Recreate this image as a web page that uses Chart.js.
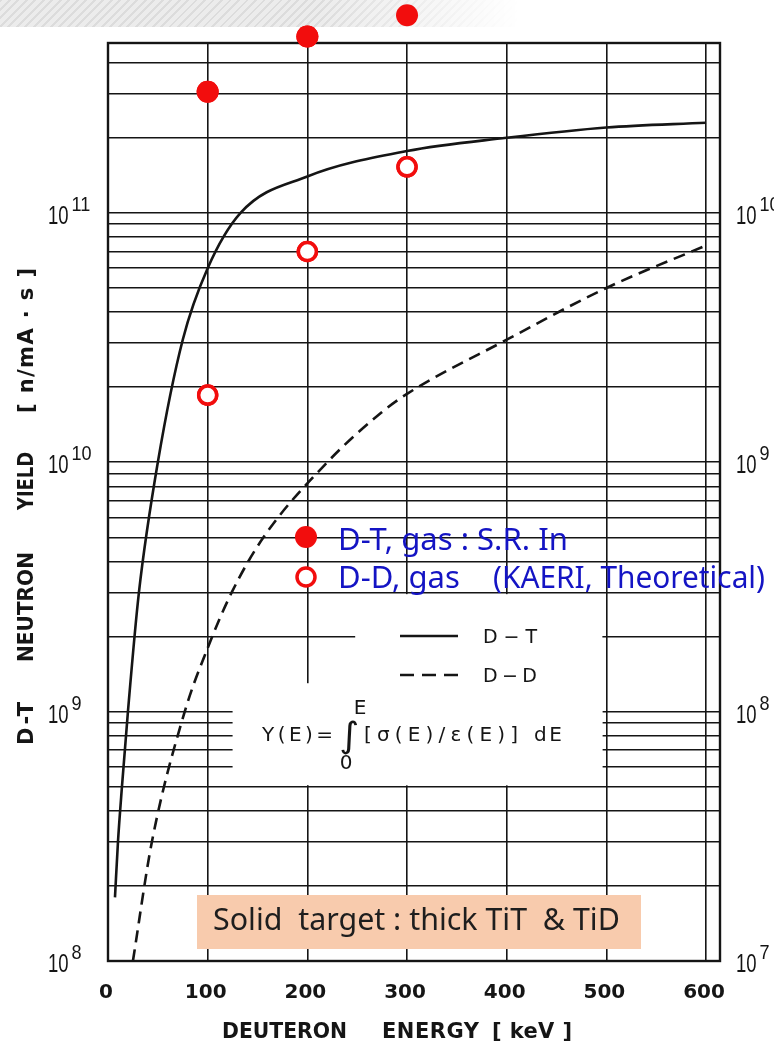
<!DOCTYPE html>
<html>
<head>
<meta charset="utf-8">
<script src="https://cdn.jsdelivr.net/npm/chart.js@4.4.1/dist/chart.umd.min.js"></script>
<style>
html, body { margin: 0; padding: 0; background: #fff; }
#wrap { position: relative; width: 774px; height: 1048px; overflow: hidden; }
#band {
    position: absolute; left: 0; top: 0; width: 774px; height: 27px;
    background: repeating-linear-gradient(135deg, #dcdcdc 0 2px, #ececec 2px 6px);
    -webkit-mask-image: linear-gradient(to right, #000 0, #000 320px, transparent 520px);
    mask-image: linear-gradient(to right, #000 0, #000 320px, transparent 520px);
}
canvas { position: absolute; left: 0; top: 0; }
</style>
</head>
<body>
<div id="wrap">
    <div id="band"></div>
    <canvas id="chart" width="774" height="1048"></canvas>
</div>
<script>
//
// D-T / D-D neutron yield of thick TiT & TiD targets vs deuteron energy
//

// curves (keV, n/mA.s)
const dtEnergy = [7, 10, 14, 20, 31, 50, 75, 100, 133, 200, 300, 400, 500, 600]
const dtYield = [1.8e8, 3e8, 5e8, 1e9, 3e9, 1e10, 3.1e10, 6e10, 1e11, 1.4e11, 1.77e11, 2e11, 2.2e11, 2.3e11]

const ddEnergy = [25, 44, 77, 100, 124, 156, 220, 274, 300, 400, 500, 600]
const ddYield = [1e8, 3e8, 1e9, 1.8e9, 3e9, 5e9, 1e10, 1.58e10, 1.88e10, 3.1e10, 5e10, 7.4e10]

// gas target points (red markers)
const gasEnergy = [100, 200, 300]
const dtGasYield = [3.06e11, 5.1e11, 6.2e11]
const ddGasYield = [1.86e10, 7.0e10, 1.53e11]

// axes
const xTicks = [0, 100, 200, 300, 400, 500, 600]
const leftExps = [8, 9, 10, 11]
const rightExps = [7, 8, 9, 10]
const xMax = 614
const yMin = 1e8
const yMax = 4.8e11

const ink = '#151515'
const red = '#f20d0d'
const blue = '#1414c4'

const yGrid = []
for (let e of leftExps) {
    for (let m = 1; m <= 9; m++) {
        if (m * Math.pow(10, e) <= yMax) yGrid.push(m * Math.pow(10, e))
    }
}

const toPoints = (xs, ys) => xs.map((v, i) => ({ x: v, y: ys[i] }))

// draws one word so that it covers the given length
function fitWord(ctx, text, left, baseline, length) {
    ctx.letterSpacing = '0px'
    const w = ctx.measureText(text).width
    const n = [...text].length
    ctx.save()
    ctx.translate(left, baseline)
    if (w > length) {
        ctx.scale(length / w, 1)
    } else if (n > 1) {
        ctx.letterSpacing = ((length - w) / (n - 1)) + 'px'
    }
    ctx.textAlign = 'left'
    ctx.fillText(text, 0, 0)
    ctx.restore()
    ctx.letterSpacing = '0px'
}

// font size that makes text as wide as length
function fitSize(ctx, text, family, length) {
    ctx.font = '100px ' + family
    return 100 * length / ctx.measureText(text).width
}

function drawPower(ctx, left, py, exp) {
    ctx.save()
    ctx.fillStyle = ink
    ctx.textAlign = 'left'
    ctx.font = '25px "Liberation Sans", Arial, sans-serif'
    ctx.translate(left, py + 11)
    ctx.scale(0.74, 1)
    ctx.fillText('10', 0, 0)
    const baseW = ctx.measureText('10').width
    ctx.restore()
    ctx.save()
    ctx.fillStyle = ink
    ctx.textAlign = 'left'
    ctx.font = '21px "Liberation Sans", Arial, sans-serif'
    ctx.translate(left + baseW * 0.74 + 3, py - 2)
    ctx.scale(0.86, 1)
    ctx.fillText(String(exp), 0, 0)
    ctx.restore()
}

const paper = {
    id: 'paper',
    beforeDatasetsDraw(chart) {
        const { ctx, chartArea: a, scales: { x, y } } = chart
        ctx.save()
        // blank panel behind the inner legend and formula
        ctx.fillStyle = '#fff'
        const top = y.getPixelForValue(3e9) + 1.5
        const bottom = y.getPixelForValue(5e8) - 1.5
        const left = x.getPixelForValue(125)
        const right = x.getPixelForValue(496)
        const notch = x.getPixelForValue(248)
        const notchBottom = y.getPixelForValue(1.3e9)
        ctx.fillRect(notch, top, right - notch, bottom - top)
        ctx.fillRect(left, notchBottom, right - left, bottom - notchBottom)
        // frame
        ctx.strokeStyle = ink
        ctx.lineWidth = 2.4
        ctx.strokeRect(a.left, a.top, a.width, a.height)
        ctx.restore()
    },
    afterDatasetsDraw(chart) {
        // gas points may sit above the frame, draw them again without the area check
        const full = { left: 0, top: 0, right: chart.width, bottom: chart.height }
        for (let i of [2, 3]) {
            chart.getDatasetMeta(i).data.forEach(pt => pt.draw(chart.ctx, full))
        }
    },
    afterDraw(chart) {
        const { ctx, scales: { x, y, y2 } } = chart
        ctx.save()

        // y tick labels, both sides
        for (let e of leftExps) drawPower(ctx, 48, y.getPixelForValue(Math.pow(10, e)), e)
        for (let e of rightExps) drawPower(ctx, 736, y2.getPixelForValue(Math.pow(10, e)), e)

        // x tick labels
        ctx.fillStyle = ink
        ctx.font = 'bold 20px "DejaVu Sans", sans-serif'
        ctx.textAlign = 'center'
        for (let v of xTicks) ctx.fillText(String(v), x.getPixelForValue(v) - 2, 998)

        // axis titles
        ctx.font = 'bold 21px "DejaVu Sans", sans-serif'
        fitWord(ctx, 'DEUTERON', 222, 1038, 125)
        fitWord(ctx, 'ENERGY', 382, 1038, 97)
        fitWord(ctx, '[ keV ]', 492, 1038, 80)

        ctx.save()
        ctx.translate(33, 0)
        ctx.rotate(-Math.PI / 2)
        fitWord(ctx, 'D-T', -745, 0, 43)
        fitWord(ctx, 'NEUTRON', -662, 0, 110)
        fitWord(ctx, 'YIELD', -510, 0, 58)
        fitWord(ctx, '[ n/mA · s ]', -413, 0, 145)
        ctx.restore()

        // gas legend (red markers, blue text)
        ctx.fillStyle = red
        ctx.beginPath()
        ctx.arc(306, 537, 11, 0, Math.PI * 2)
        ctx.fill()
        ctx.fillStyle = '#fff'
        ctx.strokeStyle = red
        ctx.lineWidth = 3.5
        ctx.beginPath()
        ctx.arc(306, 577, 9, 0, Math.PI * 2)
        ctx.fill()
        ctx.stroke()

        const fam = '"Noto Sans", "Open Sans", sans-serif'
        const size = fitSize(ctx, 'D-T, gas : S.R. In', fam, 230)
        ctx.font = size + 'px ' + fam
        ctx.fillStyle = blue
        ctx.textAlign = 'left'
        ctx.fillText('D-T, gas : S.R. In', 338, 550)
        ctx.fillText('D-D, gas', 338, 588)
        fitWord(ctx, '(KAERI, Theoretical)', 493, 588, 272)

        // inner legend
        ctx.strokeStyle = ink
        ctx.lineWidth = 2.5
        ctx.beginPath()
        ctx.moveTo(400, 636)
        ctx.lineTo(458, 636)
        ctx.stroke()
        ctx.setLineDash([14, 8])
        ctx.beginPath()
        ctx.moveTo(400, 675)
        ctx.lineTo(458, 675)
        ctx.stroke()
        ctx.setLineDash([])
        ctx.fillStyle = ink
        ctx.font = '19px "DejaVu Sans", sans-serif'
        fitWord(ctx, 'D\u2212T', 483, 643, 54)
        fitWord(ctx, 'D\u2212D', 483, 682, 54)

        // formula
        ctx.font = '20px "DejaVu Sans", sans-serif'
        fitWord(ctx, 'Y(E)=', 262, 741, 71)
        fitWord(ctx, '[\u03c3(E)/\u03b5(E)]', 364, 741, 154)
        fitWord(ctx, 'dE', 534, 741, 28)
        ctx.textAlign = 'center'
        ctx.fillText('E', 360, 714)
        ctx.fillText('0', 346, 769)
        ctx.font = '35px "DejaVu Sans", sans-serif'
        ctx.save()
        ctx.translate(349, 747)
        ctx.scale(1.1, 1)
        ctx.fillText('\u222b', 0, 0)
        ctx.restore()

        // solid target note
        ctx.fillStyle = '#f8cbad'
        ctx.fillRect(197, 895, 444, 54)
        const fam2 = '"Noto Sans", "Open Sans", sans-serif'
        const size2 = fitSize(ctx, 'Solid  target : thick TiT  & TiD', fam2, 407)
        ctx.font = size2 + 'px ' + fam2
        ctx.fillStyle = '#1e1e1e'
        ctx.textAlign = 'left'
        ctx.fillText('Solid  target : thick TiT  & TiD', 213, 930)

        ctx.restore()
    }
}

const gridStyle = { color: ink, lineWidth: 1.6, drawTicks: false }

new Chart(document.getElementById('chart').getContext('2d'), {
    type: 'line',
    data: {
        datasets: [
            {
                label: 'D-T',
                data: toPoints(dtEnergy, dtYield),
                borderColor: ink,
                borderWidth: 2.6,
                pointRadius: 0,
                cubicInterpolationMode: 'monotone'
            },
            {
                label: 'D-D',
                data: toPoints(ddEnergy, ddYield),
                borderColor: ink,
                borderWidth: 2.6,
                borderDash: [12, 7],
                pointRadius: 0,
                cubicInterpolationMode: 'monotone'
            },
            {
                label: 'D-T, gas : S.R. In',
                data: toPoints(gasEnergy, dtGasYield),
                showLine: false,
                pointRadius: 11,
                pointBorderWidth: 0,
                pointBackgroundColor: red,
                pointBorderColor: red,
                clip: false
            },
            {
                label: 'D-D, gas (KAERI, Theoretical)',
                data: toPoints(gasEnergy, ddGasYield),
                showLine: false,
                pointRadius: 9,
                pointBorderWidth: 3.5,
                pointBackgroundColor: '#fff',
                pointBorderColor: red,
                clip: false
            }
        ]
    },
    options: {
        responsive: false,
        animation: false,
        devicePixelRatio: 1,
        layout: { padding: { left: 108, right: 54, top: 43, bottom: 87 } },
        plugins: { legend: { display: false }, tooltip: { enabled: false } },
        scales: {
            x: {
                type: 'linear',
                min: 0,
                max: xMax,
                ticks: { display: false },
                grid: gridStyle,
                border: { display: false },
                afterBuildTicks: (scale) => { scale.ticks = xTicks.map(v => ({ value: v })) }
            },
            y: {
                type: 'logarithmic',
                min: yMin,
                max: yMax,
                ticks: { display: false },
                grid: gridStyle,
                border: { display: false },
                afterBuildTicks: (scale) => { scale.ticks = yGrid.map(v => ({ value: v })) }
            },
            y2: {
                type: 'logarithmic',
                position: 'right',
                min: yMin / 10,
                max: yMax / 10,
                ticks: { display: false },
                grid: { display: false, drawTicks: false },
                border: { display: false }
            }
        }
    },
    plugins: [paper]
})
</script>
</body>
</html>
